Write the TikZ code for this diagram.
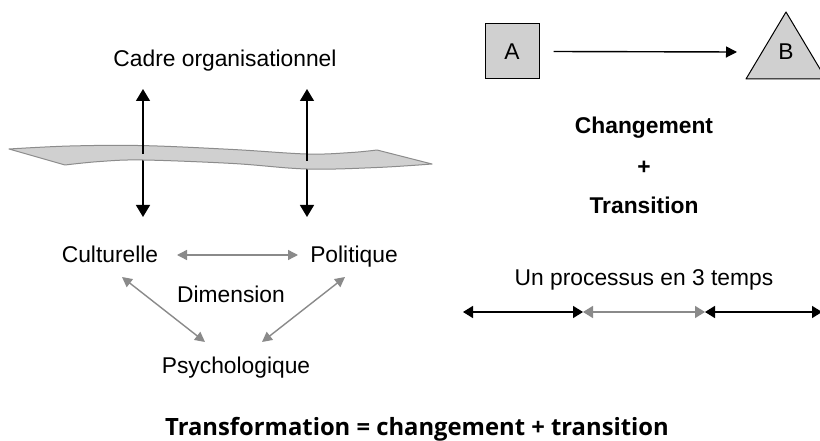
\documentclass[tikz,border=0pt]{standalone}
\usepackage{fontspec}
\setmainfont{Liberation Sans}
\newfontfamily\titlefont{Open Sans}
\usetikzlibrary{arrows.meta}

\definecolor{shade}{HTML}{D0D0D0}
\definecolor{linkgray}{HTML}{8A8A8A}
\definecolor{edgegray}{HTML}{8C8C8C}

\tikzset{
  label/.style={font=\fontsize{22.8}{26}\selectfont, inner sep=0pt, anchor=base},
  boldlabel/.style={font=\fontsize{22.8}{26}\selectfont\bfseries, inner sep=0pt, anchor=base},
  upstem/.style={line width=1.5pt, -{Triangle[length=12pt,width=14pt]}},
  grayarrow/.style={draw=linkgray, line width=1.4pt, {Triangle[length=10pt,width=10pt]}-{Triangle[length=10pt,width=10pt]}},
  timearrow/.style={line width=1.5pt, {Triangle[length=10pt,width=12pt]}-{Triangle[length=10pt,width=12pt]}},
  band/.style={fill=shade, draw=edgegray, line width=1pt, line join=round},
  shapebox/.style={draw=black, fill=shade, line width=1pt, minimum width=54pt, minimum height=55pt,
    inner sep=0pt, font=\fontsize{22.8}{26}\selectfont},
}

\begin{document}
\begin{tikzpicture}[x=1pt, y=-1pt]
\clip (0,0) rectangle (820,441);
\fill[white] (0,0) rectangle (820,441);

% ---- organisational frame: band crossed by two double arrows ----
\node[label] (cadre) at (225,67) {Cadre organisationnel};

\coordinate (l-mid) at (143,154);
\coordinate (l-top) at (143,89);
\coordinate (l-bot) at (143,217);
\coordinate (r-mid) at (307,161);
\coordinate (r-top) at (307,89);
\coordinate (r-bot) at (307,217);

% lower halves pass behind the band
\draw[upstem] (l-mid) -- (l-bot);
\draw[upstem] (r-mid) -- (r-bot);

\draw[band] (9,149)
  -- plot[smooth, tension=0.6] coordinates {(9,149) (70,146) (143,145.6) (233,149.5) (307,154) (350,152.6) (377,150)}
  -- (432,164)
  -- plot[smooth, tension=0.6] coordinates {(432,164) (377,167.5) (307,169) (233,163.5) (143,160) (100,161.5) (65,165)}
  -- cycle;

% upper halves pass over the band
\draw[upstem] (l-mid) -- (l-top);
\draw[upstem] (r-mid) -- (r-top);

% ---- three dimensions ----
\node[label] (cult) at (110,262) {Culturelle};
\node[label] (poli) at (354,262) {Politique};
\node[label] (dim) at (231,302) {Dimension};
\node[label] (psy) at (236,373) {Psychologique};

\coordinate (cul-r) at (177,255);
\coordinate (pol-l) at (298,255);
\draw[grayarrow] (cul-r) -- (pol-l);
\coordinate (cp-a) at (122,277);
\coordinate (cp-b) at (205,342);
\coordinate (pp-a) at (345,277);
\coordinate (pp-b) at (262,342);
\draw[grayarrow] (cp-a) -- (cp-b);
\draw[grayarrow] (pp-a) -- (pp-b);

% ---- A to B ----
\node[shapebox] (A) at (512,51.5) {A};
\draw[fill=shade, line width=1pt, line join=round] (746,79) -- (786,12) -- (826,79) -- cycle;
\node[font=\fontsize{22.8}{26}\selectfont, inner sep=0pt] (B) at (786,52) {B};
\coordinate (Bin) at (737,52);
\draw[line width=1.4pt, -{Triangle[length=11pt,width=11pt]}] ([xshift=14pt]A.east) -- (Bin);

% ---- change + transition ----
\node[boldlabel] (chg) at (644,134) {Changement};
\node[font=\fontsize{22.8}{26}\selectfont\bfseries, inner sep=0pt] (plus) at (644,168) {+};
\node[boldlabel] (trans) at (644,214) {Transition};

% ---- three-step process ----
\node[label] (proc) at (644,285) {Un processus en 3 temps};
\coordinate (t0) at (463,312);
\coordinate (t1) at (583,312);
\coordinate (t2) at (705,312);
\coordinate (t3) at (822,312);
\draw[timearrow] (t0) -- (t1);
\draw[timearrow, draw=linkgray, fill=linkgray] (t1) -- (t2);
\draw[timearrow] (t2) -- (t3);

% ---- summary ----
\node[font=\titlefont\fontsize{23.8}{28}\selectfont\bfseries, inner sep=0pt, anchor=base] (summary) at (417,435)
  {Transformation = changement + transition};
\end{tikzpicture}
\end{document}
